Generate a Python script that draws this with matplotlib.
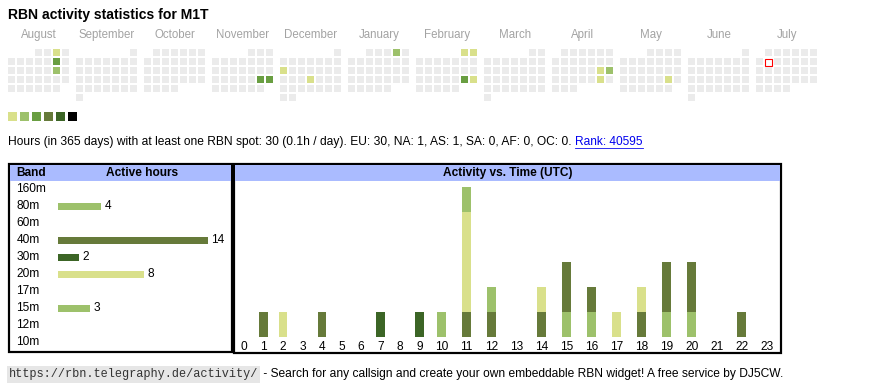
import matplotlib
matplotlib.use('Agg')
import matplotlib.pyplot as plt
from matplotlib.patches import Rectangle
import datetime as dt
import numpy as np

plt.rcParams['font.family'] = ['Liberation Sans', 'DejaVu Sans']

# ---------------- data ----------------
title = "RBN activity statistics for M1T"
month_names = ["August", "September", "October", "November", "December", "January",
               "February", "March", "April", "May", "June", "July"]
month_years = [2024, 2024, 2024, 2024, 2024, 2025, 2025, 2025, 2025, 2025, 2025, 2025]
month_nums = [8, 9, 10, 11, 12, 1, 2, 3, 4, 5, 6, 7]

active_dates = ["2024-08-03", "2024-08-10", "2024-08-17", "2024-11-23", "2024-11-24",
                "2024-12-09", "2024-12-19", "2025-01-04", "2025-02-01", "2025-02-02",
                "2025-02-22", "2025-02-23", "2025-04-19", "2025-04-20", "2025-04-26",
                "2025-05-24"]
active_levels = [1, 3, 2, 3, 3, 1, 1, 2, 1, 1, 3, 1, 1, 2, 1, 1]
today = "2025-07-08"

level_colors = ["#d9e08b", "#9dc16b", "#699e41", "#667a3a", "#3c6526", "#000000"]
empty_color = "#ebebeb"

info_text = ("Hours (in 365 days) with at least one RBN spot: 30 (0.1h / day). "
             "EU: 30, NA: 1, AS: 1, SA: 0, AF: 0, OC: 0.")
rank_text = "Rank: 40595"

bands = ["160m", "80m", "60m", "40m", "30m", "20m", "17m", "15m", "12m", "10m"]
band_hours = [0, 4, 0, 14, 2, 8, 0, 3, 0, 0]
band_colors = {"160m": "#d9e08b", "80m": "#9dc16b", "60m": "#699e41", "40m": "#667a3a",
               "30m": "#3c6526", "20m": "#d9e08b", "17m": "#9dc16b", "15m": "#9dc16b",
               "12m": "#667a3a", "10m": "#3c6526"}

hour_labels = [str(h) for h in range(24)]
act_80m = [0, 0, 0, 0, 0, 0, 0, 0, 0, 0, 0, 0, 0, 0, 0, 1, 1, 0, 0, 1, 1, 0, 0, 0]
act_40m = [0, 1, 0, 0, 1, 0, 0, 0, 0, 0, 0, 1, 1, 0, 1, 2, 1, 0, 1, 2, 2, 0, 1, 0]
act_30m = [0, 0, 0, 0, 0, 0, 0, 1, 0, 1, 0, 0, 0, 0, 0, 0, 0, 0, 0, 0, 0, 0, 0, 0]
act_20m = [0, 0, 1, 0, 0, 0, 0, 0, 0, 0, 0, 4, 0, 0, 1, 0, 0, 1, 1, 0, 0, 0, 0, 0]
act_15m = [0, 0, 0, 0, 0, 0, 0, 0, 0, 0, 1, 1, 1, 0, 0, 0, 0, 0, 0, 0, 0, 0, 0, 0]
activity = {"80m": act_80m, "40m": act_40m, "30m": act_30m, "20m": act_20m, "15m": act_15m}

footer_url = "https://rbn.telegraphy.de/activity/"
footer_text = " - Search for any callsign and create your own embeddable RBN widget! A free service by DJ5CW."

# ---------------- figure ----------------
W, H = 870, 390
FS = 8.6
fig = plt.figure(figsize=(W / 100, H / 100), dpi=100)
bg = fig.add_axes([0, 0, 1, 1])
bg.set_xlim(0, W)
bg.set_ylim(H, 0)
bg.axis('off')


def px_axes(x0, y0, x1, y1):
    return fig.add_axes([x0 / W, 1 - y1 / H, (x1 - x0) / W, (y1 - y0) / H])


PX = 0.72  # points per pixel

bg.text(8, 15, title, fontsize=10.1, fontweight='bold', va='center', ha='left')

# ---------------- calendar ----------------
CAL_X0, CAL_Y0, CELL, PITCH, MPITCH = 8, 49, 7, 9, 68
lvl_of = {dt.date.fromisoformat(d): l for d, l in zip(active_dates, active_levels)}
today_d = dt.date.fromisoformat(today)
for mi, (name, yy, mm) in enumerate(zip(month_names, month_years, month_nums)):
    bx = CAL_X0 + mi * MPITCH
    bg.text(bx + 3.5 * PITCH - 0.5, 35, name, fontsize=8.3, color='#a3a3a3',
            ha='center', va='center')
    first = dt.date(yy, mm, 1)
    nxt = dt.date(yy + (mm == 12), mm % 12 + 1, 1)
    ndays = (nxt - first).days
    wd0 = first.weekday()
    for d in range(ndays):
        day = first + dt.timedelta(days=d)
        pos = wd0 + d
        row, col = divmod(pos, 7)
        lvl = lvl_of.get(day, 0)
        fc = level_colors[lvl - 1] if lvl else empty_color
        x, y = bx + col * PITCH, CAL_Y0 + row * PITCH
        if day == today_d:
            bg.add_patch(Rectangle((x + 0.5, y + 0.5), CELL, CELL, facecolor='white',
                                   edgecolor='#ff0000', lw=1.1 * PX, snap=True))
        else:
            bg.add_patch(Rectangle((x, y), CELL, CELL, facecolor=fc, edgecolor='none'))

# legend squares
for i, c in enumerate(level_colors):
    bg.add_patch(Rectangle((8 + 12 * i, 112), 9, 9, facecolor=c, edgecolor='none'))

# info line
t_info = bg.text(8, 142, info_text, fontsize=8.65, va='center', ha='left', color='black')
fig.canvas.draw()
r = fig.canvas.get_renderer()
ext = t_info.get_window_extent(r)
x_rank = ext.x1 + 3.5  # display px == data px in x
t_rank = bg.text(x_rank, 142, rank_text, fontsize=8.6, va='center', ha='left', color='#0000ee')
fig.canvas.draw()
ext2 = t_rank.get_window_extent(r)
bg.plot([ext2.x0, ext2.x1], [147.5, 147.5], color='#0000ee', lw=0.8 * PX)

# ---------------- table box ----------------
bg.add_patch(Rectangle((9.2, 164), 232 - 9.2, 351.8 - 164, facecolor='white',
                       edgecolor='black', lw=2.2 * PX, zorder=1))
bg.add_patch(Rectangle((10.5, 165), 231 - 10.5, 181 - 165, facecolor='#aabbff',
                       edgecolor='none', zorder=2))
bg.text(16.5, 173.3, "Band", fontsize=FS, fontweight='bold', ha='left', va='center', zorder=3)
bg.text(141.7, 173.3, "Active hours", fontsize=FS, fontweight='bold', ha='center',
        va='center', zorder=3)

# chart box
bg.add_patch(Rectangle((234, 164), 781 - 234, 353.2 - 164, facecolor='white',
                       edgecolor='black', lw=2.2 * PX, zorder=1))
bg.add_patch(Rectangle((235.2, 165), 779.8 - 235.2, 181 - 165, facecolor='#aabbff',
                       edgecolor='none', zorder=2))
bg.text(507.3, 173.3, "Activity vs. Time (UTC)", fontsize=FS, fontweight='bold',
        ha='center', va='center', zorder=3)

# band bars
ROW = 17.0
ax_b = px_axes(10.5, 189.3 - ROW / 2, 231, 189.3 + 9.5 * ROW)
UNIT = 150 / 14
ax_b.set_xlim(-(58 - 10.5) / UNIT, (231 - 58) / UNIT)
ax_b.set_ylim(len(bands) - 0.5, -0.5)
ax_b.axis('off')
ypos = np.arange(len(bands))
ax_b.barh(ypos + 0.03, band_hours, height=7 / ROW,
          color=[band_colors[b] for b in bands], left=0)
for i, (b, v) in enumerate(zip(bands, band_hours)):
    ax_b.text(-(58 - 16.5) / UNIT, i, b, fontsize=FS, ha='left', va='center')
    if v > 0:
        ax_b.text(v + 3.5 / UNIT, i, str(v), fontsize=FS, ha='left', va='center')

# activity chart
widths = np.array([19.5 if len(l) == 1 else 25.0 for l in hour_labels])
centers = np.cumsum(widths) - widths / 2
ax_a = px_axes(234.2, 181, 234.2 + widths.sum(), 336.7)
ax_a.set_xlim(0, widths.sum())
ax_a.set_ylim(0, (336.7 - 181) / 25)
bottom = np.zeros(24)
for b in bands:
    if b in activity:
        vals = np.array(activity[b])
        ax_a.bar(centers, vals, bottom=bottom, width=8.5, color=band_colors[b])
        bottom += vals
ax_a.set_xticks(centers, hour_labels)
ax_a.tick_params(axis='x', length=0, pad=3.0, labelsize=FS)
ax_a.set_yticks([])
for s in ax_a.spines.values():
    s.set_visible(False)
ax_a.patch.set_alpha(0)

# footer
bg.text(9, 374.5, footer_url, fontsize=8.6, family='Liberation Mono', color='#333333',
        ha='left', va='center',
        bbox=dict(facecolor='#e6e6e6', edgecolor='none', pad=1.5))
bg.text(260, 374.5, footer_text, fontsize=8.65, ha='left', va='center', color='black')

fig.savefig('out.png', dpi=100)
